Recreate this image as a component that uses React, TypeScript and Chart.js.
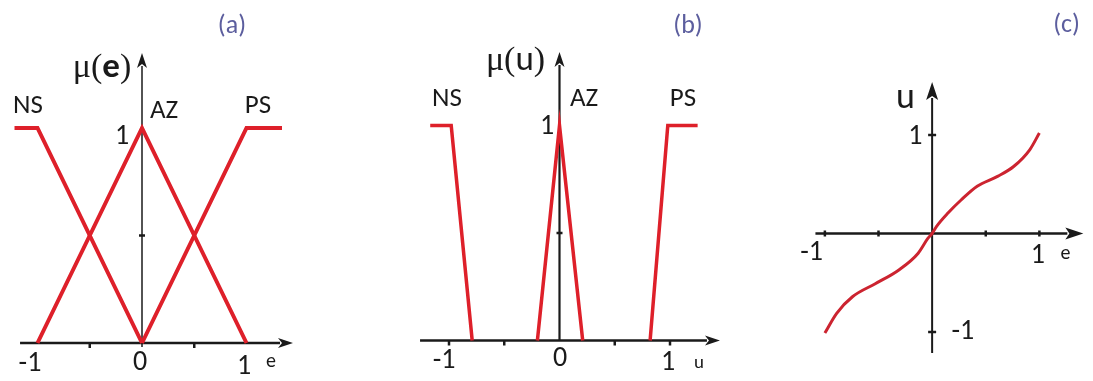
import React, { useEffect, useRef } from "react";
import { Chart, registerables } from "chart.js";

Chart.register(...registerables);

// Fuzzy set names shared by both membership plots
const setNames = ["NS", "AZ", "PS"];

// (a) input membership functions μ(e)
const eNsX = [-1.22, -1, 0];
const eNsY = [1, 1, 0];
const eAzX = [-1, 0, 1];
const eAzY = [0, 1, 0];
const ePsX = [0, 1, 1.34];
const ePsY = [0, 1, 1];

// (b) output membership functions μ(u)
const uNsX = [-1.17, -0.98, -0.79];
const uNsY = [1, 1, 0];
const uAzX = [-0.2, 0, 0.21];
const uAzY = [0, 1, 0];
const uPsX = [0.82, 0.98, 1.25];
const uPsY = [0, 1, 1];

// (c) resulting control characteristic u(e)
const surfE = [-1, -0.89, -0.74, -0.53, -0.31, -0.13, -0.04, 0, 0.04, 0.15, 0.27, 0.42, 0.61, 0.76, 0.91, 1];
const surfU = [-1.01, -0.81, -0.64, -0.51, -0.37, -0.2, -0.05, 0, 0.07, 0.21, 0.34, 0.48, 0.58, 0.68, 0.85, 1.02];

// Axis tick labels
const tickNeg = "-1";
const tickZero = "0";
const tickOne = "1";

const W = 1093;
const H = 381;
const SANS = '"Carlito", "Lato", sans-serif';
const SERIF = '"Liberation Serif", "DejaVu Serif", serif';
const INK = "#1a1a1a";
const TAG = "#5c5e9e";

type Part = { t: string; font: string };
type Txt = { x: number; y: number; parts: Part[]; color?: string };
type Series = { x: number[]; y: number[] };
type Panel = {
  // pixel calibration: two reference values per axis and where they sit
  xCal: [number, number, number, number];
  yCal: [number, number, number, number];
  xr: [number, number];
  yr: [number, number];
  series: Series[];
  color: string;
  width: number;
  smooth: boolean;
  xAxis: [number, number, number];
  yAxis: [number, number, number];
  arrow: [number, number];
  xTicks: number[];
  xTickSpan: [number, number];
  yTicks: number[];
  yTickSpan: [number, number];
  texts: Txt[];
};

const lbl = (t: string, size = 27): Part[] => [{ t, font: `${size}px ${SANS}` }];

// Chart-area padding so that the linear scales land on the calibrated pixels
function paddingFor(p: Panel) {
  const [xv0, xp0, xv1, xp1] = p.xCal;
  const kx = (xp1 - xp0) / (xv1 - xv0);
  const [yv0, yp0, yv1, yp1] = p.yCal;
  const ky = (yp0 - yp1) / (yv1 - yv0);
  const left = xp0 + (p.xr[0] - xv0) * kx;
  const right = xp0 + (p.xr[1] - xv0) * kx;
  const top = yp0 - (p.yr[1] - yv0) * ky;
  const bottom = yp0 - (p.yr[0] - yv0) * ky;
  return { left, right: W - right, top, bottom: H - bottom };
}

const panels: Panel[] = [
  {
    xCal: [-1, 37.5, 1, 246.5],
    yCal: [0, 343, 1, 128],
    xr: [-1.35, 1.5],
    yr: [-0.15, 1.55],
    series: [
      { x: eNsX, y: eNsY },
      { x: eAzX, y: eAzY },
      { x: ePsX, y: ePsY },
    ],
    color: "rgb(222,32,42)",
    width: 4,
    smooth: false,
    xAxis: [-1.167, 1.445, 2.5],
    yAxis: [-0.019, 1.349, 1.5],
    arrow: [15, 5],
    xTicks: [-0.5, 0.5],
    xTickSpan: [0, 5],
    yTicks: [0.5],
    yTickSpan: [3, 3],
    texts: [
      {
        x: -0.383,
        y: 1.284,
        parts: [
          { t: "μ(", font: `34px ${SERIF}` },
          { t: "e", font: `bold 35px ${SANS}` },
          { t: ")", font: `34px ${SERIF}` },
        ],
      },
      { x: -1.091, y: 1.107, parts: lbl(setNames[0]) },
      { x: 0.211, y: 1.084, parts: lbl(setNames[1]) },
      { x: 1.11, y: 1.107, parts: lbl(setNames[2]) },
      { x: -0.191, y: 0.963, parts: lbl(tickOne, 28) },
      { x: -1.072, y: -0.093, parts: lbl(tickNeg, 28) },
      { x: -0.019, y: -0.088, parts: lbl(tickZero, 28) },
      { x: 0.976, y: -0.107, parts: lbl(tickOne, 28) },
      { x: 1.234, y: -0.084, parts: lbl("e", 20) },
      { x: 0.861, y: 1.479, parts: lbl("(a)", 26), color: TAG },
    ],
  },
  {
    xCal: [-1, 449, 1, 670],
    yCal: [0, 340.5, 1, 125.5],
    xr: [-1.5, 1.5],
    yr: [-0.15, 1.55],
    series: [
      { x: uNsX, y: uNsY },
      { x: uAzX, y: uAzY },
      { x: uPsX, y: uPsY },
    ],
    color: "rgb(222,32,42)",
    width: 3.5,
    smooth: false,
    xAxis: [-1.262, 1.452, 2.5],
    yAxis: [0, 1.342, 2.2],
    arrow: [15, 5],
    xTicks: [-1, -0.5, 0.5, 1],
    xTickSpan: [0, 5],
    yTicks: [0.5],
    yTickSpan: [3, 3],
    texts: [
      {
        x: -0.398,
        y: 1.305,
        parts: [
          { t: "μ(", font: `34px ${SERIF}` },
          { t: "u", font: `35px ${SANS}` },
          { t: ")", font: `34px ${SERIF}` },
        ],
      },
      { x: -1.018, y: 1.128, parts: lbl(setNames[0]) },
      { x: 0.222, y: 1.128, parts: lbl(setNames[1]) },
      { x: 1.118, y: 1.128, parts: lbl(setNames[2]) },
      { x: -0.113, y: 0.998, parts: lbl(tickOne, 28) },
      { x: -1.045, y: -0.091, parts: lbl(tickNeg, 28) },
      { x: 0.005, y: -0.081, parts: lbl(tickZero, 28) },
      { x: 0.982, y: -0.1, parts: lbl(tickOne, 28) },
      { x: 1.262, y: -0.1, parts: lbl("u", 19) },
      { x: 1.163, y: 1.467, parts: lbl("(b)", 26), color: TAG },
    ],
  },
  {
    xCal: [-1, 825.5, 1, 1042.5],
    yCal: [-1, 332, 1, 135],
    xr: [-1.5, 1.5],
    yr: [-1.45, 2.3],
    series: [{ x: surfE, y: surfU }],
    color: "rgb(204,36,48)",
    width: 3,
    smooth: true,
    xAxis: [-1.088, 1.41, 2.5],
    yAxis: [-1.213, 1.538, 2],
    arrow: [18, 6],
    xTicks: [-1, -0.5, 0.5, 1],
    xTickSpan: [3, 3],
    yTicks: [1, -1],
    yTickSpan: [4, 4],
    texts: [
      { x: -0.249, y: 1.376, parts: lbl("u", 36) },
      { x: -0.157, y: 0.99, parts: lbl(tickOne, 28) },
      { x: -1.124, y: -0.188, parts: lbl(tickNeg, 28) },
      { x: 0.986, y: -0.218, parts: lbl(tickOne, 28) },
      { x: 1.244, y: -0.198, parts: lbl("e", 20) },
      { x: 0.286, y: -0.99, parts: lbl(tickNeg, 28) },
      { x: 1.253, y: 2.117, parts: lbl("(c)", 26), color: TAG },
    ],
  },
];

// Draws the arrowed axes, tick marks and all annotations through the chart's scales
function makeDecor(p: Panel) {
  return {
    id: "decor",
    beforeDatasetsDraw(chart: any) {
      const { ctx, scales } = chart;
      const sx = scales.x;
      const sy = scales.y;
      const x0 = sx.getPixelForValue(0);
      const y0 = sy.getPixelForValue(0);
      const [aLen, aHalf] = p.arrow;
      ctx.save();
      ctx.strokeStyle = INK;
      ctx.fillStyle = INK;

      // horizontal axis
      const xa = sx.getPixelForValue(p.xAxis[0]);
      const xb = sx.getPixelForValue(p.xAxis[1]);
      ctx.lineWidth = p.xAxis[2];
      ctx.beginPath();
      ctx.moveTo(xa, y0);
      ctx.lineTo(xb - aLen + 2, y0);
      ctx.stroke();
      ctx.beginPath();
      ctx.moveTo(xb, y0);
      ctx.lineTo(xb - aLen, y0 - aHalf);
      ctx.lineTo(xb - aLen + 4, y0);
      ctx.lineTo(xb - aLen, y0 + aHalf);
      ctx.closePath();
      ctx.fill();

      // vertical axis
      const ya = sy.getPixelForValue(p.yAxis[0]);
      const yb = sy.getPixelForValue(p.yAxis[1]);
      ctx.lineWidth = p.yAxis[2];
      ctx.beginPath();
      ctx.moveTo(x0, ya);
      ctx.lineTo(x0, yb + aLen - 2);
      ctx.stroke();
      ctx.beginPath();
      ctx.moveTo(x0, yb);
      ctx.lineTo(x0 - aHalf, yb + aLen);
      ctx.lineTo(x0, yb + aLen - 4);
      ctx.lineTo(x0 + aHalf, yb + aLen);
      ctx.closePath();
      ctx.fill();

      // tick marks
      ctx.lineWidth = 2.5;
      p.xTicks.forEach((v) => {
        const px = sx.getPixelForValue(v);
        ctx.beginPath();
        ctx.moveTo(px, y0 - p.xTickSpan[0]);
        ctx.lineTo(px, y0 + p.xTickSpan[1]);
        ctx.stroke();
      });
      p.yTicks.forEach((v) => {
        const py = sy.getPixelForValue(v);
        ctx.beginPath();
        ctx.moveTo(x0 - p.yTickSpan[0], py);
        ctx.lineTo(x0 + p.yTickSpan[1], py);
        ctx.stroke();
      });
      ctx.restore();
    },
    afterDatasetsDraw(chart: any) {
      const { ctx, scales } = chart;
      ctx.save();
      ctx.textBaseline = "middle";
      ctx.textAlign = "left";
      p.texts.forEach((tx) => {
        const cx = scales.x.getPixelForValue(tx.x);
        const cy = scales.y.getPixelForValue(tx.y);
        let total = 0;
        const widths = tx.parts.map((pt) => {
          ctx.font = pt.font;
          const w = ctx.measureText(pt.t).width;
          total += w;
          return w;
        });
        let cur = cx - total / 2;
        ctx.fillStyle = tx.color || INK;
        tx.parts.forEach((pt, i) => {
          ctx.font = pt.font;
          ctx.fillText(pt.t, cur, cy + 1);
          cur += widths[i];
        });
      });
      ctx.restore();
    },
  };
}

function PanelChart({ panel }: { panel: Panel }) {
  const ref = useRef<HTMLCanvasElement | null>(null);
  useEffect(() => {
    if (!ref.current) return;
    const chart = new Chart(ref.current, {
      type: "line",
      data: {
        datasets: panel.series.map((s) => ({
          data: s.x.map((x, i) => ({ x, y: s.y[i] })),
          borderColor: panel.color,
          borderWidth: panel.width,
          pointRadius: 0,
          fill: false,
          borderJoinStyle: "miter" as const,
          borderCapStyle: "butt" as const,
          cubicInterpolationMode: panel.smooth ? ("monotone" as const) : ("default" as const),
          tension: 0,
        })),
      },
      options: {
        animation: false,
        responsive: false,
        events: [],
        layout: { padding: paddingFor(panel) },
        plugins: { legend: { display: false }, tooltip: { enabled: false } },
        scales: {
          x: { type: "linear", min: panel.xr[0], max: panel.xr[1], display: false },
          y: { type: "linear", min: panel.yr[0], max: panel.yr[1], display: false },
        },
      },
      plugins: [makeDecor(panel)],
    });
    return () => chart.destroy();
  }, [panel]);
  return (
    <canvas
      ref={ref}
      width={W}
      height={H}
      style={{ position: "absolute", left: 0, top: 0, width: W, height: H }}
    />
  );
}

export default function App() {
  useEffect(() => {
    document.body.style.margin = "0";
  }, []);
  return (
    <div style={{ position: "absolute", left: 0, top: 0, width: W, height: H, background: "#fff" }}>
      {panels.map((p, i) => (
        <PanelChart key={i} panel={p} />
      ))}
    </div>
  );
}
